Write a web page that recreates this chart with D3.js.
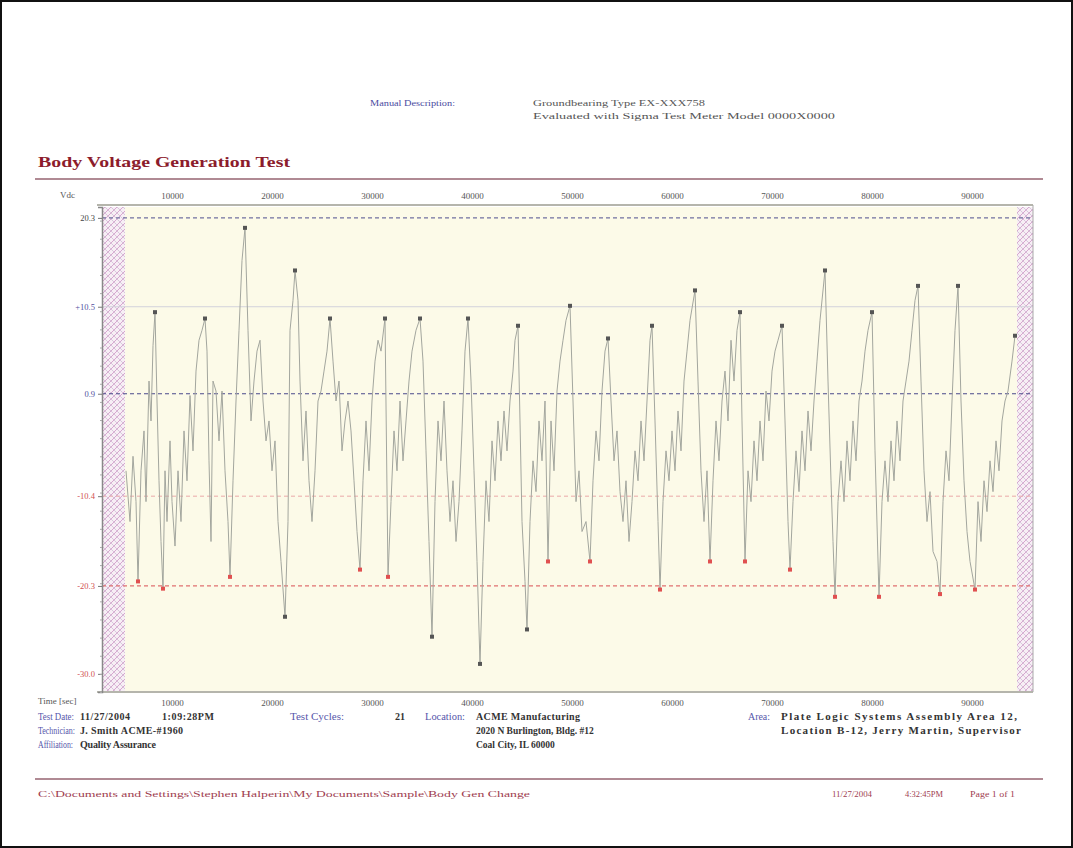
<!DOCTYPE html>
<html><head><meta charset="utf-8">
<script src="https://cdn.jsdelivr.net/npm/d3@7"></script>
<style>
body{margin:0;background:#fff}
svg{display:block}
text{font-family:"Liberation Serif","Times New Roman",serif}
</style>
</head><body>
<svg id="c" width="1073" height="848"></svg>
<script>
// ---------- data ----------
const timeTicks = [10000, 20000, 30000, 40000, 50000, 60000, 70000, 80000, 90000];
const limitValues = [20.3, 10.5, 0.9, -10.4, -20.3, -30.0];
const limitLabels = ["20.3", "+10.5", "0.9", "-10.4", "-20.3", "-30.0"];
const limitColors = ["#444444", "#5050a0", "#5050a0", "#d05050", "#d05050", "#d05050"];
const excludedStart = [3000, 5300];
const excludedEnd = [94500, 96100];
// [time (s), body voltage (Vdc)]
const voltageTrace = [
[5400,-7.6],[5800,-13.2],[6100,-6.0],[6400,-11.0],[6600,-19.8],[6900,-7.6],[7200,-3.2],[7400,-11.0],[7700,2.3],[7900,-2.1],[8100,6.2],[8300,9.9],[8500,0.1],[8700,-8.7],[8900,-15.4],[9100,-20.6],[9300,-7.6],[9500,-13.2],[9800,-4.3],
[10000,-11.0],[10300,-15.9],[10600,-7.6],[10900,-13.2],[11200,-3.2],[11500,-8.7],[11800,0.7],[12100,-5.4],[12400,3.4],[12700,6.8],[13000,7.9],[13300,9.2],[13500,5.6],[13700,-6.5],[13900,-15.4],[14100,2.3],[14400,1.2],[14700,-4.3],[15000,1.2],[15300,-7.6],[15600,-13.2],[15800,-19.3],
[16100,-8.7],[16400,0.1],[16700,7.9],[17000,15.6],[17300,19.2],[17600,7.9],[17900,-2.1],[18200,2.3],[18500,5.6],[18800,6.8],[19100,0.1],[19400,-4.3],[19700,-2.1],[20000,-7.6],[20300,-4.3],[20600,-13.2],[20900,-17.6],[21300,-23.7],[21600,-13.2],[21800,7.9],[22100,11.2],[22300,14.5],
[22600,11.2],[22800,2.3],[23100,-6.5],[23400,-1.0],[23700,-8.7],[24000,-13.2],[24300,-7.6],[24600,0.1],[24900,1.2],[25200,3.4],[25500,5.6],[25800,9.2],[26100,4.5],[26400,0.1],[26700,2.3],[27000,-5.4],[27300,-2.1],[27600,0.1],[27900,-3.2],[28200,-8.7],[28500,-14.3],[28800,-18.5],
[29100,-8.7],[29400,-2.1],[29700,-7.6],[30000,0.1],[30300,4.5],[30600,6.8],[30900,5.6],[31300,9.2],[31600,-19.3],[31900,-11.0],[32200,-3.2],[32500,-7.6],[32800,0.1],[33100,-6.5],[33400,-2.1],[33700,2.3],[34000,5.6],[34400,7.9],[34800,9.2],[35100,4.5],[35400,-5.4],[35700,-15.4],[36000,-25.9],
[36300,-11.0],[36600,-2.1],[36900,-6.5],[37200,0.1],[37500,-7.6],[37800,-13.2],[38100,-8.7],[38400,-15.4],[38700,-11.0],[39000,-3.2],[39300,5.6],[39600,9.2],[39900,2.3],[40200,-7.6],[40500,-17.6],[40800,-28.9],
[41100,-17.6],[41400,-8.7],[41700,-13.2],[42000,-4.3],[42300,-8.7],[42600,-2.1],[42900,-6.5],[43200,-1.0],[43500,-5.4],[43800,0.1],[44100,3.4],[44300,6.8],[44600,8.4],[44800,-2.1],[45000,-13.2],[45300,-19.8],[45500,-25.1],
[45800,-13.2],[46100,-6.5],[46400,-9.9],[46700,-2.1],[47000,-6.5],[47300,0.1],[47600,-17.6],[47900,-2.1],[48200,-7.6],[48500,1.2],[48800,4.5],[49100,6.8],[49400,9.0],[49800,10.6],[50100,0.1],[50400,-11.0],[50700,-7.6],[51000,-14.3],[51400,-13.2],[51800,-17.6],
[52100,-8.7],[52400,-3.2],[52700,-6.5],[53000,1.2],[53300,5.6],[53600,7.0],[53900,0.1],[54200,-6.5],[54500,-3.2],[54800,-9.9],[55100,-13.2],[55400,-8.7],[55700,-15.4],[56000,-11.0],[56300,-5.4],[56600,-8.7],[56900,-2.1],[57200,-6.5],[57500,0.1],[57800,6.8],[58000,8.4],[58300,-2.1],[58600,-13.2],[58800,-20.7],
[59100,-11.0],[59400,-5.4],[59700,-8.7],[60000,-3.2],[60300,-7.6],[60600,-1.0],[60900,-5.4],[61200,2.3],[61500,5.6],[61800,9.0],[62300,12.3],[62600,2.3],[62900,-7.6],[63200,-13.2],[63500,-7.6],[63800,-17.6],
[64100,-8.7],[64400,-2.1],[64700,-6.5],[65000,0.1],[65300,3.4],[65600,-2.1],[65900,6.8],[66200,2.3],[66500,7.9],[66800,9.9],[67000,-2.1],[67300,-17.6],[67600,-7.6],[67900,-11.0],[68200,-4.3],[68500,-8.7],[68800,-2.1],[69100,-6.5],[69400,1.2],[69700,-2.1],[70000,3.4],[70300,5.6],[70600,6.8],[71000,8.4],[71300,-2.1],[71600,-13.2],[71800,-18.5],
[72100,-11.0],[72400,-5.4],[72700,-9.9],[73000,-3.2],[73300,-7.6],[73600,-1.0],[73900,-5.4],[74200,0.1],[74500,4.5],[74800,9.0],[75300,14.5],[75600,2.3],[75900,-8.7],[76100,-15.4],[76300,-21.5],
[76600,-11.0],[76900,-6.5],[77200,-11.0],[77500,-4.3],[77800,-8.7],[78100,-2.1],[78400,-6.5],[78700,0.1],[79000,2.3],[79300,5.6],[79600,7.9],[80000,9.9],[80300,-5.4],[80700,-21.5],
[81000,-11.0],[81300,-6.5],[81600,-11.0],[81900,-4.3],[82200,-8.7],[82500,-2.1],[82800,-6.5],[83100,0.1],[83400,2.3],[83700,4.5],[84000,7.9],[84300,11.2],[84600,12.8],[84900,2.3],[85200,-7.6],[85500,-13.2],[85800,-9.9],[86100,-16.5],[86500,-17.6],[86800,-21.2],
[87100,-11.0],[87400,-5.4],[87700,-8.7],[88000,0.1],[88300,7.9],[88600,12.8],[88900,0.1],[89200,-8.7],[89500,-14.3],[89800,-17.6],[90300,-20.7],[90600,-11.0],[90900,-15.4],[91200,-8.7],[91500,-12.1],[91800,-6.5],[92100,-9.9],[92400,-4.3],[92700,-7.6],[93000,-2.1],[93300,0.1],[93600,1.2],[94000,4.5],[94300,7.3]
];
const peakMarkTimes = [8300,13300,17300,22300,25800,31300,34800,39600,44600,49800,53600,58000,62300,66800,71000,75300,80000,84600,88600,94300,21300,36000,40800,45500];
const lowMarkTimes = [6600,9100,15800,28800,31600,47600,51800,58800,63800,67300,71800,76300,80700,86800,90300];

// ---------- drawing ----------
const svg = d3.select("#c");
const W = 1073, H = 848;
const plot = {l:102, r:1033, t:207, b:692};
const x = d3.scaleLinear().domain([3000, 96100]).range([plot.l, plot.r]);
const y = d3.scaleLinear().domain([-32, 21.5]).range([plot.b, plot.t]);

function txt(px, py, s, o={}) {
  const t = svg.append("text").attr("x", px).attr("y", py).text(s)
    .attr("font-size", o.size || 9).attr("fill", o.fill || "#333")
    .attr("font-weight", o.bold ? "bold" : "normal")
    .attr("text-anchor", o.anchor || "start");
  if (o.len) t.attr("textLength", o.len).attr("lengthAdjust", o.adj || "spacingAndGlyphs");
  return t;
}

// page border
svg.append("rect").attr("x",1).attr("y",1).attr("width",W-2).attr("height",H-2)
  .attr("fill","#fff").attr("stroke","#111").attr("stroke-width",2);

// header
txt(370,106,"Manual Description:",{fill:"#4a4aa0",size:8.5,len:85});
txt(533,106,"Groundbearing Type EX-XXX758",{fill:"#555",size:8.5,len:172});
txt(533,119,"Evaluated with Sigma Test Meter Model 0000X0000",{fill:"#555",size:8.5,len:302});

// title
txt(38,167,"Body Voltage Generation Test",{fill:"#8c1c2c",size:15,bold:true,len:252});
svg.append("line").attr("x1",35).attr("x2",1043).attr("y1",179).attr("y2",179)
  .attr("stroke","#b08a94").attr("stroke-width",2);

// plot background
svg.append("rect").attr("x",plot.l).attr("y",plot.t).attr("width",plot.r-plot.l).attr("height",plot.b-plot.t)
  .attr("fill","#fcfae8");

// hatch pattern
const defs = svg.append("defs");
const pat = defs.append("pattern").attr("id","hatch").attr("patternUnits","userSpaceOnUse")
  .attr("width",6).attr("height",6);
pat.append("rect").attr("width",6).attr("height",6).attr("fill","#f7eef5");
pat.append("path").attr("d","M0,6 L6,0 M-1,1 L1,-1 M5,7 L7,5").attr("stroke","#d7a6cf").attr("stroke-width",1);
pat.append("path").attr("d","M0,0 L6,6").attr("stroke","#c8b8d0").attr("stroke-width",0.7);
[excludedStart, excludedEnd].forEach(r => {
  svg.append("rect").attr("x",x(r[0])).attr("y",plot.t).attr("width",x(r[1])-x(r[0])).attr("height",plot.b-plot.t)
    .attr("fill","url(#hatch)");
});

// limit lines
const lineStyles = [
  {c:"#7070a0",d:"4,3",w:1.2},
  {c:"#d2d2dc",d:null,w:1},
  {c:"#4a4a8a",d:"4,3",w:1.2},
  {c:"#eaa8a8",d:"4,3",w:1},
  {c:"#e07070",d:"4,3",w:1.2},
  {c:"none",d:null,w:0}
];
limitValues.forEach((v,i) => {
  const s = lineStyles[i];
  if (s.c === "none") return;
  const ln = svg.append("line").attr("x1",plot.l).attr("x2",plot.r).attr("y1",y(v)).attr("y2",y(v))
    .attr("stroke",s.c).attr("stroke-width",s.w);
  if (s.d) ln.attr("stroke-dasharray",s.d);
});

// axes
const topAxis = d3.axisTop(x).tickValues(timeTicks).tickSize(0).tickPadding(6).tickFormat(d3.format("d"));
const gTop = svg.append("g").attr("transform",`translate(0,${plot.t-2})`).call(topAxis);
const botAxis = d3.axisBottom(x).tickValues(timeTicks).tickSize(0).tickPadding(8).tickFormat(d3.format("d"));
const gBot = svg.append("g").attr("transform",`translate(0,${plot.b})`).call(botAxis);
[gTop,gBot].forEach(g => {
  g.select(".domain").remove();
  g.selectAll("text").attr("font-family","Liberation Serif, serif").attr("font-size",9).attr("fill","#555");
});
svg.append("line").attr("x1",97).attr("x2",plot.r).attr("y1",plot.t-2).attr("y2",plot.t-2).attr("stroke","#b5b5ac").attr("stroke-width",2);
svg.append("line").attr("x1",97).attr("x2",plot.r).attr("y1",plot.b).attr("y2",plot.b).attr("stroke","#b5b5ac").attr("stroke-width",2);

const leftAxis = d3.axisLeft(y).tickValues(limitValues).tickSize(4).tickPadding(3)
  .tickFormat((d,i) => limitLabels[i]);
const gLeft = svg.append("g").attr("transform",`translate(${plot.l},0)`).call(leftAxis);
gLeft.select(".domain").attr("stroke","#888").attr("stroke-width",1.5);
gLeft.selectAll(".tick line").attr("stroke","#777");
gLeft.selectAll("text").attr("font-family","Liberation Serif, serif").attr("font-size",8.5)
  .attr("fill",(d,i) => limitColors[i]);
// minor ticks
const minorAxis = d3.axisLeft(y).ticks(22).tickSize(2).tickFormat("");
const gMinor = svg.append("g").attr("transform",`translate(${plot.l},0)`).call(minorAxis);
gMinor.select(".domain").remove();
gMinor.selectAll(".tick line").attr("stroke","#aaa");
svg.append("line").attr("x1",plot.r).attr("x2",plot.r).attr("y1",plot.t-2).attr("y2",plot.b).attr("stroke","#aaa").attr("stroke-width",1);

txt(60,198,"Vdc",{fill:"#555",size:9});
txt(38,704,"Time [sec]",{fill:"#555",size:9});

// trace
const line = d3.line().x(d => x(d[0])).y(d => y(d[1]));
svg.append("path").datum(voltageTrace).attr("d",line).attr("fill","none")
  .attr("stroke","#a3a69e").attr("stroke-width",1);

const valueAt = new Map(voltageTrace.map(d => [d[0], d[1]]));
svg.selectAll("rect.hi").data(peakMarkTimes).enter().append("rect").attr("class","hi")
  .attr("x",d => x(d)-2).attr("y",d => y(valueAt.get(d))-2).attr("width",4).attr("height",4)
  .attr("fill","#555");
svg.selectAll("rect.lo").data(lowMarkTimes).enter().append("rect").attr("class","lo")
  .attr("x",d => x(d)-2).attr("y",d => y(valueAt.get(d))-2).attr("width",4).attr("height",4)
  .attr("fill","#e05050");

// info block
const blue = "#5555aa", dark = "#333";
const lfs = 9.5, vfs = 10;
const V = (px,py,s,len,sz) => txt(px,py,s,{fill:dark,bold:true,size:sz||vfs,len:len,adj:"spacing"});
const L = (px,py,s,len) => txt(px,py,s,{fill:blue,size:lfs,len:len,adj:"spacingAndGlyphs"});
L(38,720,"Test Date:",36);
V(80,720,"11/27/2004",50); V(162,720,"1:09:28PM",52);
L(38,734,"Technician:",37);
V(80,734,"J. Smith ACME-#1960",103);
L(38,748,"Affiliation:",35);
V(80,748,"Quality Assurance",76);
L(290,720,"Test Cycles:",54);
V(395,720,"21",null);
L(425,720,"Location:",40);
V(476,720,"ACME Manufacturing",104);
V(476,734,"2020 N Burlington, Bldg. #12",null,9.5);
V(476,748,"Coal City, IL 60000",null,9.5);
L(748,720,"Area:",22);
V(781,720,"Plate Logic Systems Assembly Area 12,",236,11);
V(781,734,"Location B-12, Jerry Martin, Supervisor",240,11);

// footer
svg.append("line").attr("x1",35).attr("x2",1043).attr("y1",779).attr("y2",779)
  .attr("stroke","#b08a94").attr("stroke-width",2);
const fc = "#a04050";
txt(38,797,"C:\\Documents and Settings\\Stephen Halperin\\My Documents\\Sample\\Body Gen Change",{fill:fc,size:8,len:492});
txt(832,797,"11/27/2004",{fill:fc,size:8,len:40});
txt(905,797,"4:32:45PM",{fill:fc,size:8,len:38});
txt(970,797,"Page 1 of 1",{fill:fc,size:8,len:45});
</script>
</body></html>
